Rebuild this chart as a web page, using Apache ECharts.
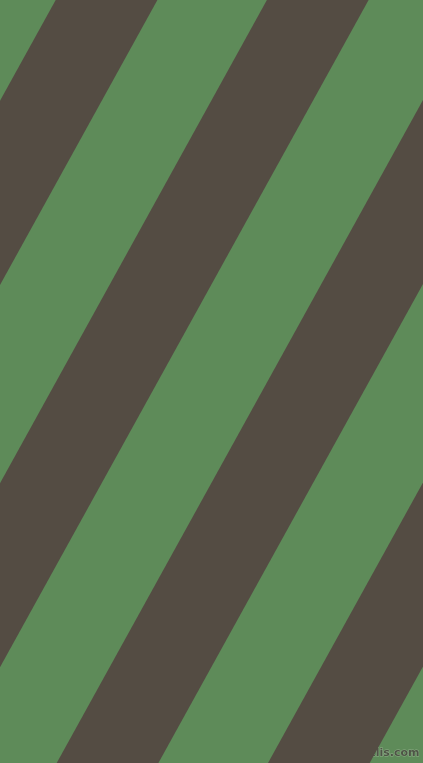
<!DOCTYPE html>
<html>
<head>
<meta charset="utf-8">
<title>stripes</title>
<script src="https://cdn.jsdelivr.net/npm/echarts@6/dist/echarts.min.js"></script>
<style>
  html, body { margin: 0; padding: 0; background: #5e8b59; }
  #main { width: 423px; height: 763px; }
</style>
</head>
<body>
<div id="main"></div>
<script>
// dark bands, in picture units: x where the left edge meets the top and the bottom
var bandTopLeft = [55.7, 266.9, 478.2, 689.5];
var bandBottomLeft = [-365.8, -154.6, 56.7, 268.0];
var bandWidth = [101.7, 101.7, 101.7, 101.7];

var chart = echarts.init(document.getElementById('main'));

var seriesData = [];
for (var i = 0; i < bandTopLeft.length; i++) {
    seriesData.push([bandTopLeft[i], bandBottomLeft[i], bandWidth[i]]);
}

var option = {
    backgroundColor: '#5e8b59',
    animation: false,
    grid: { left: 0, right: 0, top: 0, bottom: 0 },
    xAxis: { type: 'value', min: 0, max: 423, show: false },
    yAxis: { type: 'value', min: 0, max: 763, inverse: true, show: false },
    graphic: [{
        type: 'text',
        right: 3,
        bottom: 4,
        style: {
            text: 'pixlis.com',
            font: 'bold 11px "DejaVu Sans"',
            fill: '#4e5446',
            stroke: '#8fae89',
            lineWidth: 1
        }
    }],
    series: [{
        type: 'custom',
        clip: true,
        data: seriesData,
        renderItem: function (params, api) {
            var top = api.value(0), bottom = api.value(1), w = api.value(2);
            var pts = [
                api.coord([top, 0]),
                api.coord([top + w, 0]),
                api.coord([bottom + w, 763]),
                api.coord([bottom, 763])
            ];
            return {
                type: 'polygon',
                shape: { points: pts },
                style: { fill: '#544c43' }
            };
        }
    }]
};

chart.setOption(option);
</script>
</body>
</html>
